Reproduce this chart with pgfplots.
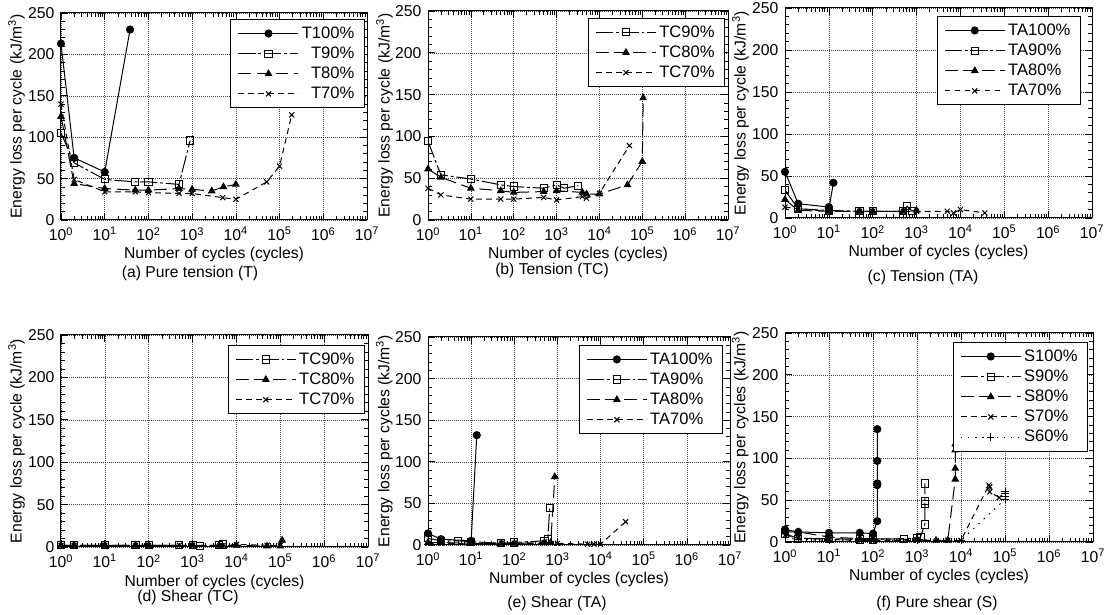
\documentclass[border=0pt]{standalone}
\usepackage{fontspec}
\setmainfont{Liberation Sans}
\usepackage{pgfplots}
\pgfplotsset{compat=1.18}
\newcommand\fsz{\fontsize{11}{13.2}\selectfont}
\newcommand\lsz{\fontsize{11.6}{13.9}\selectfont}

\pgfplotsset{
  mypanel/.style={
    xmin=1, xmax=10000000, ymin=0, ymax=250,
    scale only axis, anchor=south west,
    xtick={1,10,100,1000,10000,100000,1000000,10000000},
    xticklabels={10\textsuperscript{0},10\textsuperscript{1},10\textsuperscript{2},10\textsuperscript{3},
      10\textsuperscript{4},10\textsuperscript{5},10\textsuperscript{6},10\textsuperscript{7}},
    minor xtick={2,3,4,5,6,7,8,9,20,30,40,50,60,70,80,90,200,300,400,500,600,700,800,900,
      2000,3000,4000,5000,6000,7000,8000,9000,20000,30000,40000,50000,60000,70000,80000,90000,
      200000,300000,400000,500000,600000,700000,800000,900000,
      2000000,3000000,4000000,5000000,6000000,7000000,8000000,9000000},
    ytick={0,50,100,150,200,250}, minor y tick num=4,
    grid=major, major grid style={densely dotted, black!75, line width=0.4pt},
    tick align=inside, major tick length=5pt, minor tick length=3pt,
    every tick/.style={black, line width=0.5pt},
    axis line style={line width=0.7pt},
    /pgf/number format/assume math mode=true,
    tick label style={font=\fsz},
    xticklabel style={inner sep=0pt, yshift=-5pt},
    yticklabel style={inner sep=0pt, xshift=-4.5pt},
    label style={font=\fsz, inner sep=0pt},
    xlabel={Number of cycles (cycles)},
    xlabel style={at={(axis description cs:0.5,-0.165)}, anchor=center},
    ylabel style={at={(axis description cs:-0.145,0.5)}, anchor=center},
    legend style={draw=black, line width=0.7pt, font=\lsz, anchor=north east,
      inner xsep=5pt, inner ysep=3pt, row sep=0.5pt},
    legend cell align=left,
    legend image code/.code={
      \draw[mark repeat=2, mark phase=2, ##1] plot coordinates {(0pt,0pt) (21pt,0pt) (42pt,0pt)};},
    every axis plot/.append style={black, line width=0.7pt, mark size=2.5pt},
  },
  s100/.style={solid, mark=*, mark options={solid}},
  s90/.style={dash pattern=on 12pt off 2pt on 2pt off 2pt, mark=square, mark options={solid}},
  s80/.style={dash pattern=on 9pt off 4pt, mark=triangle*, mark options={solid}},
  s70/.style={dash pattern=on 4pt off 3pt, mark=x, mark options={solid}},
  s60/.style={dash pattern=on 1pt off 4pt, mark=+, mark options={solid}},
}

\begin{document}
\begin{tikzpicture}
\useasboundingbox (0,0) rectangle (778.4pt,430.5pt);

% (a) pure tension
\begin{semilogxaxis}[mypanel, at={(42.7pt,276.5pt)}, width=214.2pt, height=144.9pt,
  ylabel={Energy loss per cycle (kJ/m\textsuperscript{3})},
  legend style={at={(0.993,0.971)}}, legend cell align=right]
\addplot[s100] coordinates {(1,213)(2,75)(10,58)(38,230)};
\addlegendentry{T100\%}
\addplot[s90] coordinates {(1,105)(2,69)(10,49)(50,46)(100,46)(500,43)(900,96)};
\addlegendentry{T90\%}
\addplot[s80] coordinates {(1,125)(2,44)(10,38)(50,36)(100,36)(500,38)(1000,37)(2800,35)(5200,40)(10000,43)};
\addlegendentry{T80\%}
\addplot[s70] coordinates {(1,140)(2,49)(10,34)(50,34)(100,33)(500,32)(1000,32)(5000,27)(10000,25)(51000,46)(100000,65)(190000,127)};
\addlegendentry{T70\%}
\end{semilogxaxis}

% (b) tension TC
\begin{semilogxaxis}[mypanel, at={(299.6pt,276.5pt)}, width=210pt, height=146.3pt,
  ylabel={Energy loss per cycle (kJ/m\textsuperscript{3})},
  legend style={at={(0.99,0.967)}}]
\addplot[s90] coordinates {(1,94)(2,54)(10,49)(50,42)(100,40)(500,38)(1000,42)(1500,38)(3200,41)};
\addlegendentry{TC90\%}
\addplot[s80] coordinates {(1,61)(2,51)(10,38)(50,35)(100,33)(500,34)(1000,35)(4000,33)(5000,31)(10000,31)(45000,42)(100000,70)(105000,146)};
\addlegendentry{TC80\%}
\addplot[s70] coordinates {(1,38)(2,30)(10,25)(50,25)(100,25)(500,27)(1000,24)(4000,28)(5000,26)(10000,32)(50000,89)};
\addlegendentry{TC70\%}
\end{semilogxaxis}

% (c) tension TA
\begin{semilogxaxis}[mypanel, at={(549.5pt,277.9pt)}, width=214.9pt, height=147pt,
  ylabel={Energy loss per cycle (kJ/m\textsuperscript{3})},
  legend style={at={(0.964,0.962)}}]
\addplot[s100] coordinates {(1,55)(2,17)(10,13)(10,11)(12.7,42)};
\addlegendentry{TA100\%}
\addplot[s90] coordinates {(1,33)(2,11)(10,9)(50,8)(100,8)(500,8)(610,14)(800,8)};
\addlegendentry{TA90\%}
\addplot[s80] coordinates {(1,22)(2,9)(10,8)(50,8)(100,8)(500,8)(1000,9)};
\addlegendentry{TA80\%}
\addplot[s70] coordinates {(1,13)(2,11)(10,8)(50,8)(100,8)(500,8)(1000,8)(5000,8)(7000,6)(10000,10)(36000,6)};
\addlegendentry{TA70\%}
\end{semilogxaxis}

% (d) shear TC
\begin{semilogxaxis}[mypanel, at={(42.7pt,47.6pt)}, width=214.9pt, height=148.4pt,
  ylabel={Energy loss per cycle (kJ/m\textsuperscript{3})},
  legend style={at={(0.99,0.953)}}]
\addplot[s90] coordinates {(1,2)(2,2)(10,2)(50,2)(100,2)(500,2)(1000,2)(1500,1)(4000,2)(5000,3)};
\addlegendentry{TC90\%}
\addplot[s80] coordinates {(1,2)(2,2)(10,2)(50,2)(100,2)(1000,2)(4000,2)(10000,2)(50000,1)(100000,1)(110000,8)};
\addlegendentry{TC80\%}
\addplot[s70] coordinates {(1,2)(2,2)(10,2)(50,2)(100,2)(500,2)(1000,2)(5000,2)(10000,3)(50000,2)(100000,2)};
\addlegendentry{TC70\%}
\end{semilogxaxis}

% (e) shear TA
\begin{semilogxaxis}[mypanel, at={(299.6pt,49pt)}, width=211.4pt, height=145.6pt,
  ylabel={Energy loss per cycles (kJ/m\textsuperscript{3})},
  legend style={at={(0.977,0.962)}}]
\addplot[s100] coordinates {(1,14)(2,7)(10,5)(13.5,132)};
\addlegendentry{TA100\%}
\addplot[s90] coordinates {(1,8)(2,5)(5,5)(10,4)(50,2)(100,3)(500,5)(600,7)(660,44)};
\addlegendentry{TA90\%}
\addplot[s80] coordinates {(1,3)(2,3)(10,2)(50,2)(100,2)(500,3)(700,3)(870,82)};
\addlegendentry{TA80\%}
\addplot[s70] coordinates {(1,2)(2,2)(10,2)(50,2)(100,2)(500,2)(1000,2)(5000,1)(7000,1)(10000,1)(38000,28)};
\addlegendentry{TA70\%}
\end{semilogxaxis}

% (f) pure shear
\begin{semilogxaxis}[mypanel, at={(549.5pt,51.1pt)}, width=215.6pt, height=146.3pt,
  ylabel={Energy loss per cycles (kJ/m\textsuperscript{3})},
  legend style={at={(0.984,0.957)}}]
\addplot[s100] coordinates {(1,15)(2,12)(10,11)(50,11)(100,10)(125,25)(125,68)(125,70)(125,97)(125,135)};
\addlegendentry{S100\%}
\addplot[s90] coordinates {(1,10)(2,4)(10,4)(50,3)(100,3)(500,4)(1000,5)(1200,6)(1500,21)(1500,45)(1500,49)(1500,70)};
\addlegendentry{S90\%}
\addplot[s80] coordinates {(1,12)(2,12)(10,6)(50,4)(100,4)(1000,3)(2700,2)(5000,2)(7400,75)(7400,88)(7400,110)(7400,117)};
\addlegendentry{S80\%}
\addplot[s70] coordinates {(1,8)(2,5)(10,3)(50,2)(100,2)(1000,2)(5000,2)(10000,2)(43000,68)(45000,66)(45000,60)(74000,53)};
\addlegendentry{S70\%}
\addplot[s60] coordinates {(1,5)(2,3)(10,2)(100,2)(1000,2)(10000,2)(100000,51)(100000,55)(100000,58)(100000,60)};
\addlegendentry{S60\%}
\end{semilogxaxis}

\tikzset{capnode/.style={font=\fsz, inner sep=0pt}}
\node[capnode] at (133pt,239pt) {(a) Pure tension (T)};
\node[capnode] at (386.4pt,241pt) {(b) Tension (TC)};
\node[capnode] at (646.1pt,236.6pt) {(c) Tension (TA)};
\node[capnode] at (131.6pt,12.3pt) {(d) Shear (TC)};
\node[capnode] at (389.9pt,8.3pt) {(e) Shear (TA)};
\node[capnode] at (655.9pt,8.3pt) {(f) Pure shear (S)};
\end{tikzpicture}
\end{document}
